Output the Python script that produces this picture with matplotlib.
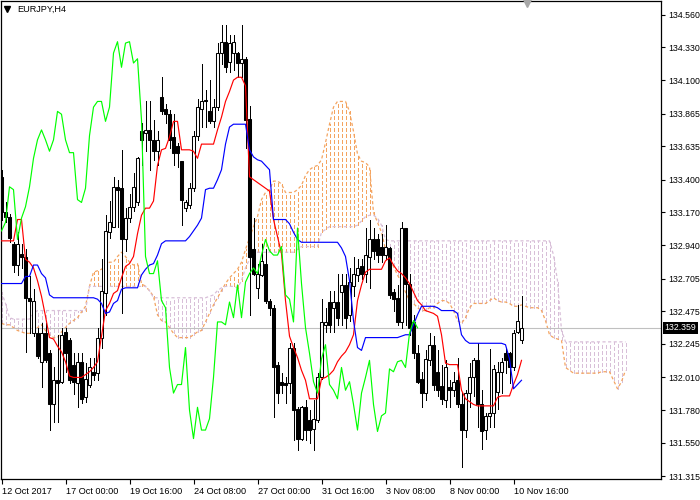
import numpy as np
import matplotlib
matplotlib.use('Agg')
import matplotlib.pyplot as plt
from matplotlib.transforms import blended_transform_factory

# EURJPY H4 candles
opens = [133.42, 133.17, 133.14, 132.95, 132.80, 132.88, 132.86, 132.57, 132.32, 132.32,
         132.12, 132.32, 132.18, 131.82, 131.99, 131.98, 132.33, 132.27, 132.10, 131.97,
         132.12, 131.87, 131.96, 132.05, 132.04, 132.29, 132.60, 133.03, 133.07, 133.35,
         133.34, 132.98, 133.13, 133.21, 133.24, 133.74, 133.73, 133.75, 133.68, 133.60,
         133.98, 133.90, 133.86, 133.70, 133.64, 133.53, 133.20, 133.22, 133.34, 133.71,
         133.90, 133.96, 133.88, 133.81, 133.91, 134.29, 134.37, 134.23, 134.29, 134.29,
         134.22, 134.25, 133.83, 132.91, 132.64, 132.73, 132.81, 132.55, 132.50, 132.10,
         131.98, 131.97, 131.97, 132.22, 131.79, 131.58, 131.80, 131.71, 131.65, 131.71,
         132.01, 132.38, 132.54, 132.50, 132.54, 132.61, 132.66, 132.45, 132.65, 132.73,
         132.79, 132.74, 132.86, 132.98, 132.98, 132.93, 132.87, 132.92, 132.61, 132.57,
         132.40, 133.06, 132.67, 132.40, 132.18, 132.00, 131.90, 132.13, 132.24, 132.05,
         131.95, 131.85, 131.94, 131.92, 131.99, 131.82, 131.64, 131.90, 132.01, 132.13,
         131.82, 131.64, 131.74, 131.76, 131.91, 132.05, 132.18, 132.18, 132.08, 132.33,
         132.27]
highs = [133.47, 133.24, 133.16, 132.96, 133.03, 132.95, 132.91, 132.72, 132.63, 132.36,
         132.39, 132.39, 132.20, 132.08, 132.31, 132.36, 132.36, 132.29, 132.18, 132.18,
         132.18, 132.11, 132.15, 132.15, 132.36, 132.84, 133.15, 133.25, 133.42, 133.40,
         133.61, 133.20, 133.30, 133.45, 133.56, 133.80, 133.95, 133.95, 133.82, 133.74,
         134.12, 133.93, 133.89, 133.86, 133.66, 133.53, 133.26, 133.38, 133.74, 133.97,
         134.21, 134.03, 134.10, 133.97, 134.36, 134.49, 134.49, 134.42, 134.42, 134.30,
         134.49, 134.26, 133.92, 133.13, 132.81, 132.95, 132.91, 132.56, 132.52, 132.12,
         132.04, 132.01, 132.25, 132.25, 131.80, 131.81, 131.85, 131.78, 131.85, 132.04,
         132.56, 132.50, 132.62, 132.62, 132.74, 132.74, 132.74, 132.78, 132.86, 132.84,
         132.84, 133.06, 133.12, 133.06, 133.02, 133.02, 133.08, 132.93, 132.63, 132.66,
         133.10, 133.06, 132.74, 132.45, 132.24, 132.05, 132.20, 132.32, 132.30, 132.20,
         132.10, 132.13, 131.99, 132.05, 132.15, 131.90, 131.92, 132.11, 132.15, 132.25,
         131.92, 131.76, 132.21, 132.10, 132.12, 132.15, 132.22, 132.19, 132.34, 132.52,
         132.58]
lows = [133.12, 133.10, 132.96, 132.75, 132.73, 132.78, 132.19, 132.32, 132.30, 132.15,
        131.94, 132.12, 131.64, 131.70, 131.70, 131.97, 132.05, 131.97, 131.89, 131.80,
        131.83, 131.84, 131.94, 131.99, 131.99, 132.22, 132.45, 132.99, 133.07, 133.07,
        132.46, 132.90, 133.10, 133.18, 133.22, 133.50, 133.60, 133.47, 133.54, 133.50,
        133.86, 133.80, 133.62, 133.50, 133.49, 133.08, 133.18, 133.20, 133.32, 133.68,
        133.77, 133.77, 133.80, 133.77, 133.89, 134.21, 134.16, 134.16, 134.17, 134.12,
        134.12, 133.62, 132.45, 132.73, 132.57, 132.72, 132.53, 132.45, 131.73, 131.83,
        131.90, 131.83, 131.90, 131.57, 131.50, 131.57, 131.57, 131.55, 131.50, 131.70,
        132.00, 132.33, 132.33, 132.33, 132.38, 132.38, 132.36, 132.41, 132.58, 132.69,
        132.70, 132.68, 132.64, 132.84, 132.82, 132.82, 132.84, 132.57, 132.48, 132.38,
        132.36, 132.38, 132.31, 132.15, 131.97, 131.80, 131.85, 132.10, 131.92, 131.88,
        131.82, 131.80, 131.80, 131.88, 131.80, 131.38, 131.59, 131.80, 131.88, 131.66,
        131.51, 131.58, 131.66, 131.66, 131.79, 131.90, 132.04, 131.97, 132.06, 132.32,
        132.25]
closes = [133.17, 133.14, 132.99, 132.80, 132.95, 132.86, 132.57, 132.55, 132.55, 132.16,
          132.32, 132.13, 131.82, 131.99, 131.97, 132.31, 132.18, 131.99, 131.98, 132.12,
          131.86, 132.00, 132.08, 132.03, 132.29, 132.62, 133.04, 133.10, 133.35, 133.33,
          132.98, 133.13, 133.21, 133.35, 133.55, 133.68, 133.75, 133.68, 133.60, 133.68,
          133.88, 133.86, 133.68, 133.59, 133.59, 133.26, 133.24, 133.34, 133.71, 133.91,
          133.95, 133.95, 133.81, 133.91, 134.29, 134.37, 134.19, 134.36, 134.37, 134.22,
          134.25, 133.82, 132.86, 132.74, 132.74, 132.83, 132.55, 132.50, 132.08, 131.90,
          131.96, 131.96, 132.22, 131.78, 131.58, 131.80, 131.64, 131.64, 131.72, 132.01,
          132.40, 132.40, 132.38, 132.54, 132.43, 132.66, 132.43, 132.68, 132.74, 132.78,
          132.74, 132.87, 132.98, 132.90, 132.87, 132.87, 132.93, 132.59, 132.56, 132.40,
          133.06, 132.67, 132.36, 132.18, 131.98, 131.90, 132.14, 132.24, 131.96, 131.92,
          131.86, 132.08, 131.92, 131.98, 131.82, 131.64, 131.90, 132.01, 132.13, 131.82,
          131.63, 131.74, 131.76, 132.07, 132.05, 132.12, 132.13, 132.08, 132.32, 132.41,
          132.359]

# Ichimoku lines
tenkan = [132.97, 132.97, 132.97, 132.97, 133.12, 133.12, 132.84, 132.82, 132.78, 132.69,
          132.58, 132.44, 132.29, 132.28, 132.23, 132.19, 132.12, 132.02, 132.01, 132.01,
          132.01, 132.03, 132.05, 132.08, 132.12, 132.30, 132.48, 132.53, 132.60, 132.62,
          132.71, 132.79, 132.81, 132.86, 133.02, 133.15, 133.20, 133.20, 133.25, 133.50,
          133.61, 133.62, 133.70, 133.81, 133.81, 133.61, 133.61, 133.61, 133.60, 133.55,
          133.65, 133.65, 133.65, 133.65, 133.75, 133.84, 133.95, 134.02, 134.10, 134.12,
          134.12, 134.06, 133.42, 133.40, 133.38, 133.36, 133.34, 133.32, 133.12, 133.00,
          132.88, 132.55, 132.30, 132.22, 132.15, 132.06, 131.99, 131.86, 131.86, 131.86,
          132.00, 132.01, 132.03, 132.06, 132.12, 132.16, 132.19, 132.24, 132.31, 132.55,
          132.66, 132.75, 132.77, 132.77, 132.77, 132.77, 132.83, 132.85, 132.80, 132.76,
          132.74, 132.71, 132.67, 132.61, 132.55, 132.52, 132.48, 132.47, 132.46, 132.44,
          132.31, 132.11, 132.10, 132.10, 132.10, 131.92, 131.86, 131.84, 131.82, 131.81,
          131.81, 131.81, 131.81, 131.81, 131.87, 131.88, 131.88, 131.88, 131.96, 132.03,
          132.13]
kijun = [132.67, 132.67, 132.67, 132.67, 132.67, 132.67, 132.72, 132.72, 132.80, 132.80,
         132.74, 132.71, 132.59, 132.57, 132.57, 132.57, 132.57, 132.57, 132.57, 132.57,
         132.57, 132.57, 132.57, 132.57, 132.56, 132.53, 132.46, 132.47, 132.53, 132.55,
         132.63, 132.64, 132.64, 132.64, 132.64, 132.73, 132.77, 132.80, 132.81, 132.87,
         132.95, 132.97, 132.97, 132.97, 132.97, 132.97, 132.97, 133.00, 133.04, 133.08,
         133.13, 133.33, 133.34, 133.34, 133.40, 133.47, 133.65, 133.77, 133.79, 133.79,
         133.79, 133.79, 133.61, 133.56, 133.54, 133.53, 133.50, 133.47, 133.12, 133.12,
         133.12, 133.12, 133.09, 133.03, 132.98, 132.96, 132.96, 132.96, 132.96, 132.96,
         132.96, 132.96, 132.96, 132.96, 132.96, 132.92, 132.86, 132.69, 132.41, 132.22,
         132.20, 132.29, 132.29, 132.29, 132.29, 132.29, 132.29, 132.29, 132.29, 132.29,
         132.30, 132.31, 132.31, 132.38, 132.45, 132.51, 132.51, 132.51, 132.51, 132.50,
         132.48, 132.48, 132.48, 132.48, 132.46, 132.31, 132.27, 132.25, 132.25, 132.25,
         132.25, 132.25, 132.25, 132.25, 132.25, 132.25, 132.24, 132.14, 131.93, 131.96,
         131.99]
span_a = [132.39, 132.38, 132.38, 132.36, 132.34, 132.33, 132.32, 132.32, 132.33, 132.36,
          132.38, 132.34, 132.31, 132.29, 132.29, 132.33, 132.36, 132.39, 132.41, 132.43,
          132.47, 132.51, 132.65, 132.75, 132.76, 132.77, 132.80, 132.82, 132.82, 132.86,
          132.89, 132.86, 132.82, 132.80, 132.81, 132.67, 132.65, 132.62, 132.58, 132.45,
          132.41, 132.40, 132.36, 132.32, 132.29, 132.29, 132.29, 132.29, 132.31, 132.33,
          132.34, 132.40, 132.46, 132.52, 132.57, 132.62, 132.67, 132.71, 132.74, 132.77,
          132.82, 132.91, 132.99, 133.07, 133.14, 133.26, 133.31, 133.33, 133.39, 133.39,
          133.37, 133.31, 133.31, 133.31, 133.33, 133.36, 133.43, 133.47, 133.49, 133.50,
          133.54, 133.66, 133.79, 133.91, 133.95, 133.95, 133.95, 133.88, 133.74, 133.58,
          133.53, 133.52, 133.49, 133.17, 133.10, 133.03, 132.91, 132.84, 132.79, 132.73,
          132.68, 132.61, 132.55, 132.53, 132.50, 132.48, 132.48, 132.50, 132.50, 132.53,
          132.55, 132.55, 132.53, 132.48, 132.41, 132.39, 132.43, 132.50, 132.53, 132.53,
          132.53, 132.53, 132.55, 132.57, 132.55, 132.54, 132.54, 132.53, 132.51, 132.51,
          132.52, 132.51, 132.50, 132.50, 132.50, 132.48, 132.41, 132.31, 132.29, 132.28,
          132.27, 132.08, 132.06, 132.04, 132.04, 132.04, 132.04, 132.04, 132.04, 132.04,
          132.05, 132.05, 132.05, 131.99, 131.93, 131.98, 132.06]
span_b = [132.61, 132.53, 132.43, 132.42, 132.42, 132.42, 132.42, 132.42, 132.46, 132.48,
          132.48, 132.48, 132.48, 132.48, 132.48, 132.48, 132.48, 132.48, 132.48, 132.48,
          132.48, 132.48, 132.65, 132.65, 132.65, 132.65, 132.65, 132.65, 132.65, 132.65,
          132.65, 132.65, 132.65, 132.65, 132.65, 132.65, 132.65, 132.62, 132.57, 132.57,
          132.57, 132.57, 132.57, 132.57, 132.57, 132.57, 132.57, 132.57, 132.57, 132.57,
          132.57, 132.57, 132.58, 132.59, 132.62, 132.64, 132.65, 132.65, 132.65, 132.64,
          132.69, 132.78, 132.84, 132.89, 132.89, 132.89, 132.89, 132.89, 132.89, 132.89,
          132.89, 132.89, 132.89, 132.89, 132.91, 132.93, 132.93, 132.93, 132.93, 132.93,
          133.03, 133.05, 133.07, 133.07, 133.07, 133.07, 133.07, 133.07, 133.07, 133.08,
          133.11, 133.14, 133.15, 133.15, 133.13, 133.08, 132.98, 132.97, 132.97, 132.97,
          132.97, 132.97, 132.97, 132.97, 132.97, 132.97, 132.97, 132.97, 132.97, 132.97,
          132.97, 132.97, 132.97, 132.97, 132.97, 132.97, 132.97, 132.97, 132.97, 132.97,
          132.97, 132.97, 132.97, 132.97, 132.97, 132.97, 132.97, 132.97, 132.97, 132.97,
          132.97, 132.97, 132.97, 132.97, 132.97, 132.97, 132.97, 132.97, 132.87, 132.69,
          132.34, 132.26, 132.26, 132.26, 132.26, 132.26, 132.26, 132.26, 132.26, 132.26,
          132.26, 132.26, 132.26, 132.26, 132.26, 132.26, 132.26]
chikou_shift = 26
last_price = 132.359

price_ticks = [131.315, 131.550, 131.780, 132.010, 132.245, 132.475, 132.705, 132.940,
               133.170, 133.400, 133.635, 133.865, 134.100, 134.330, 134.560]
time_ticks = [0, 16, 32, 48, 64, 80, 96, 112, 128]
time_labels = ['12 Oct 2017', '17 Oct 00:00', '19 Oct 16:00', '24 Oct 08:00', '27 Oct 00:00',
               '31 Oct 16:00', '3 Nov 08:00', '8 Nov 00:00', '10 Nov 16:00']
symbol = 'EURJPY,H4'

plt.rcParams['font.family'] = ['Liberation Sans', 'DejaVu Sans']

fig = plt.figure(figsize=(7, 5), dpi=100)
ax = fig.add_axes([1 / 700, 21 / 500, 660 / 700, 478 / 500])
ax.set_xlim(-0.125, 164.875)
ax.set_ylim(131.296, 134.656)

o = np.array(opens)
h = np.array(highs)
l = np.array(lows)
c = np.array(closes)
bars = np.arange(len(c))
px = 0.72  # one pixel at 100 dpi, in points
dot = (0, (3, 2.5))

# cloud: dotted verticals between the two spans, colour by which one is on top
sa = np.array(span_a)
sb = np.array(span_b)
cx = np.arange(len(sa))
cloud_cols = np.where(sa >= sb, 'sandybrown', 'thistle')
ax.vlines(cx, np.minimum(sa, sb), np.maximum(sa, sb), colors=cloud_cols,
          linestyles=dot, linewidth=px, antialiased=False, zorder=1)
ax.plot(cx, sa, color='sandybrown', linestyle=(0, (2.5, 2)), linewidth=0.9, zorder=1)
ax.plot(cx, sb, color='thistle', linestyle=(0, (2.5, 2)), linewidth=0.9, zorder=1)

# bid line
ax.axhline(last_price, color='#c0c0c0', linewidth=0.8, zorder=2)

# candles
up = c >= o
ax.vlines(bars, l, h, color='black', linewidth=px, antialiased=False, zorder=3)
body_h = np.maximum(np.abs(c - o), 0.006)
ax.bar(bars, body_h, bottom=np.minimum(o, c), width=0.55,
       color=np.where(up, 'white', 'black'), edgecolor='black', linewidth=0.75, zorder=4)

# ichimoku lines
ax.plot(bars, tenkan, color='red', linewidth=0.85, zorder=5)
ax.plot(bars, kijun, color='blue', linewidth=0.85, zorder=5)
ax.plot(bars[chikou_shift:] - chikou_shift, c[chikou_shift:], color='lime',
        linewidth=0.85, zorder=5)

# axes look
for s in ax.spines.values():
    s.set_linewidth(0.9)
    s.set_color('black')
ax.yaxis.tick_right()
ax.set_yticks(price_ticks)
ax.set_yticklabels([f'{v:.3f}' for v in price_ticks])
ax.tick_params(axis='y', length=3, width=0.8, pad=2, labelsize=6.3)
ax.set_xticks(time_ticks)
ax.set_xticklabels(time_labels)
for lab in ax.get_xticklabels():
    lab.set_horizontalalignment('left')
ax.tick_params(axis='x', length=3.5, width=0.8, pad=2, labelsize=6.6)

# current price tag on the scale
tr = blended_transform_factory(ax.transAxes, ax.transData)
ax.text(1.005, last_price, f'{last_price:.3f}', transform=tr, ha='left', va='center',
        color='white', fontsize=6.3, zorder=10,
        bbox=dict(facecolor='black', edgecolor='none', pad=1.2))

# symbol caption and markers at the top
fig.text(17 / 700, 1 - 9 / 500, symbol, fontsize=6.6, ha='left', va='center')
fig.lines.append(plt.Line2D([7 / 700], [1 - 9 / 500], marker='v', markersize=4.5,
                            color='black', transform=fig.transFigure))
ax.plot([131.4], [134.64], marker='v', markersize=6, color='#a8a8a8',
        clip_on=False, zorder=6)

fig.savefig('out.png', dpi=100, facecolor='white')
